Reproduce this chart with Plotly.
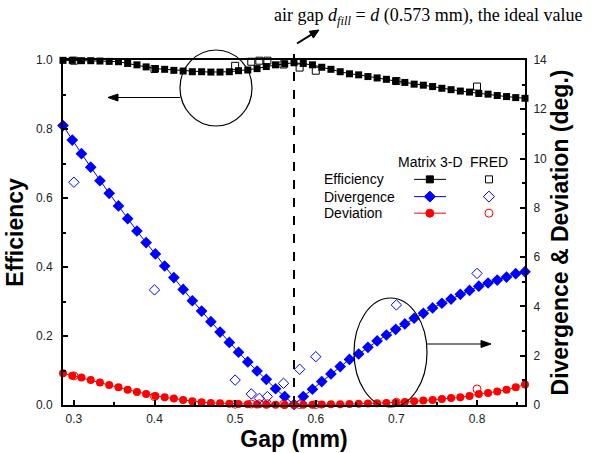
import plotly.graph_objects as go

# ---------------- data ----------------
gap_mm = [0.2865, 0.2980, 0.3094, 0.3209, 0.3323, 0.3438, 0.3553, 0.3667, 0.3782, 0.3896,
          0.4011, 0.4126, 0.4240, 0.4355, 0.4469, 0.4584, 0.4699, 0.4813, 0.4928, 0.5042,
          0.5157, 0.5272, 0.5386, 0.5501, 0.5615, 0.5730, 0.5845, 0.5959, 0.6074, 0.6188,
          0.6303, 0.6418, 0.6532, 0.6647, 0.6761, 0.6876, 0.6991, 0.7105, 0.7220, 0.7334,
          0.7449, 0.7564, 0.7678, 0.7793, 0.7907, 0.8022, 0.8137, 0.8251, 0.8366, 0.8480,
          0.8595]

eff_matrix = [0.999, 0.999, 0.998, 0.998, 0.997, 0.996,
              0.995, 0.990, 0.986, 0.980, 0.975, 0.973, 0.970, 0.968, 0.966, 0.966,
              0.965, 0.965, 0.966, 0.969, 0.971, 0.975, 0.981, 0.986, 0.989,
              0.992,
              0.990, 0.986, 0.979, 0.973, 0.966, 0.960, 0.957, 0.952, 0.948, 0.944,
              0.939, 0.935, 0.930, 0.927, 0.923, 0.918, 0.914, 0.910, 0.907, 0.903,
              0.901, 0.897, 0.894, 0.891, 0.889]

div_matrix = [11.34, 10.75, 10.20, 9.65, 9.10, 8.59, 8.08, 7.56, 7.06, 6.59,
              6.13, 5.64, 5.17, 4.69, 4.23, 3.81, 3.38, 2.96, 2.54, 2.14,
              1.75, 1.38, 1.04, 0.66, 0.34, 0.02,
              0.34, 0.64, 0.95, 1.26, 1.56, 1.85, 2.07, 2.34, 2.60, 2.84,
              3.07, 3.29, 3.52, 3.72, 3.94, 4.13, 4.30, 4.49, 4.65, 4.82,
              4.95, 5.07, 5.19, 5.33, 5.41]

dev_matrix = [1.29, 1.19, 1.12, 1.01, 0.91, 0.81, 0.72, 0.62, 0.53, 0.45,
              0.37, 0.31, 0.26, 0.20, 0.15, 0.11, 0.08, 0.07, 0.05, 0.04,
              0.03, 0.02, 0.01, 0.01, 0.00, 0.00,
              0.01, 0.01, 0.02, 0.03, 0.03, 0.04, 0.05, 0.06, 0.07, 0.08,
              0.09, 0.12, 0.15, 0.18, 0.20, 0.24, 0.28, 0.31, 0.37, 0.45,
              0.49, 0.55, 0.62, 0.72, 0.83]

gap_fred = [0.30, 0.40, 0.50, 0.52, 0.53, 0.54, 0.56, 0.58, 0.60, 0.70, 0.80]
eff_fred = [0.998, 0.974, 0.983, 0.995, 0.998, 0.998, 0.987, 0.978, 0.969, 0.939, 0.923]
div_fred = [9.04, 4.67, 1.01, 0.45, 0.27, 0.34, 0.88, 1.45, 1.96, 4.06, 5.34]
dev_fred = [1.18, 0.34, 0.03, 0.04, 0.05, 0.05, 0.03, 0.02, 0.02, 0.11, 0.65]

ideal_gap = 0.573
legend_rows = ["Efficiency", "Divergence", "Deviation"]
x_ticks = [0.3, 0.4, 0.5, 0.6, 0.7, 0.8]

# ---------------- styles ----------------
SANS = "Liberation Sans, Arial, sans-serif"
SERIF = "Liberation Serif, Times New Roman, serif"
BLACK = "#000000"
BLUE = "#0000ff"
RED = "#ff0000"

fig = go.Figure()

# Matrix 3-D results
fig.add_trace(go.Scatter(x=gap_mm, y=eff_matrix, mode="lines+markers", name="Efficiency (Matrix 3-D)",
                         line=dict(color=BLACK, width=1), marker=dict(symbol="square", size=7, color=BLACK),
                         cliponaxis=False, showlegend=False))
fig.add_trace(go.Scatter(x=gap_mm, y=div_matrix, mode="lines+markers", name="Divergence (Matrix 3-D)",
                         yaxis="y2", line=dict(color=BLUE, width=1),
                         marker=dict(symbol="diamond", size=9, color=BLUE),
                         cliponaxis=False, showlegend=False))
fig.add_trace(go.Scatter(x=gap_mm, y=dev_matrix, mode="lines+markers", name="Deviation (Matrix 3-D)",
                         yaxis="y2", line=dict(color=RED, width=1),
                         marker=dict(symbol="circle", size=8, color=RED),
                         cliponaxis=False, showlegend=False))

# FRED results (open symbols)
fig.add_trace(go.Scatter(x=gap_fred, y=eff_fred, mode="markers", name="Efficiency (FRED)",
                         marker=dict(symbol="square-open", size=7, color=BLACK, line=dict(width=1)),
                         cliponaxis=False, showlegend=False))
fig.add_trace(go.Scatter(x=gap_fred, y=div_fred, mode="markers", name="Divergence (FRED)", yaxis="y2",
                         marker=dict(symbol="diamond-open", size=8, color=BLUE, line=dict(width=1)),
                         cliponaxis=False, showlegend=False))
fig.add_trace(go.Scatter(x=gap_fred, y=dev_fred, mode="markers", name="Deviation (FRED)", yaxis="y2",
                         marker=dict(symbol="circle-open", size=8, color=RED, line=dict(width=1)),
                         cliponaxis=False, showlegend=False))

# ---------------- helpers: pixel sizes -> paper units (plot area 462 x 345 px) ----------------
PW, PH = 462.0, 345.0


def sq(cx, cy, half_px, color, filled):
    dx, dy = half_px / PW, half_px / PH
    return dict(type="rect", xref="paper", yref="paper", x0=cx - dx, x1=cx + dx, y0=cy - dy, y1=cy + dy,
                fillcolor=color if filled else "rgba(0,0,0,0)", line=dict(color=color, width=1))


def dia(cx, cy, half_px, color, filled):
    dx, dy = half_px / PW, half_px / PH
    path = (f"M {cx - dx:.5f} {cy:.5f} L {cx:.5f} {cy + dy:.5f} L {cx + dx:.5f} {cy:.5f} "
            f"L {cx:.5f} {cy - dy:.5f} Z")
    return dict(type="path", xref="paper", yref="paper", path=path,
                fillcolor=color if filled else "rgba(0,0,0,0)", line=dict(color=color, width=1))


def circ(cx, cy, half_px, color, filled):
    dx, dy = half_px / PW, half_px / PH
    return dict(type="circle", xref="paper", yref="paper", x0=cx - dx, x1=cx + dx, y0=cy - dy, y1=cy + dy,
                fillcolor=color if filled else "rgba(0,0,0,0)", line=dict(color=color, width=1))


shapes = [
    # ideal-gap marker line
    dict(type="line", xref="x", yref="paper", x0=ideal_gap, x1=ideal_gap, y0=0, y1=1.043,
         line=dict(color=BLACK, width=2, dash="dash")),
    # ellipses
    dict(type="circle", xref="paper", yref="paper", x0=0.2532, x1=0.4091, y0=0.8087, y1=1.0290,
         line=dict(color=BLACK, width=1.2)),
    dict(type="circle", xref="paper", yref="paper", x0=0.6299, x1=0.7879, y0=-0.0058, y1=0.3101,
         line=dict(color=BLACK, width=1.2)),
    # arrow from upper ellipse to the left axis
    dict(type="line", xref="paper", yref="paper", x0=0.2532, x1=0.1169, y0=0.8913, y1=0.8913,
         line=dict(color=BLACK, width=1.2)),
    dict(type="path", xref="paper", yref="paper",
         path="M 0.0974 0.8913 L 0.1190 0.9014 L 0.1190 0.8812 Z",
         fillcolor=BLACK, line=dict(color=BLACK, width=1)),
    # arrow from lower ellipse to the right axis
    dict(type="line", xref="paper", yref="paper", x0=0.7879, x1=0.9048, y0=0.1768, y1=0.1768,
         line=dict(color=BLACK, width=1.2)),
    dict(type="path", xref="paper", yref="paper",
         path="M 0.9264 0.1768 L 0.9048 0.1870 L 0.9048 0.1667 Z",
         fillcolor=BLACK, line=dict(color=BLACK, width=1)),
    # arrow pointing to the top text
    dict(type="line", xref="paper", yref="paper", x0=0.5065, x1=0.5374, y0=1.0478, y1=1.0733,
         line=dict(color=BLACK, width=2)),
    dict(type="path", xref="paper", yref="paper",
         path="M 0.5541 1.0870 L 0.5420 1.0635 L 0.5329 1.0832 Z",
         fillcolor=BLACK, line=dict(color=BLACK, width=1)),
]

# ---------------- custom two-column legend ----------------
row_y = [0.654, 0.604, 0.556]
row_col = [BLACK, BLUE, RED]
row_mk = [sq, dia, circ]
row_half = [3.5, 5.5, 4.0]
open_half = [3.5, 5.5, 4.0]
for yv, c, mk, h, oh in zip(row_y, row_col, row_mk, row_half, open_half):
    shapes.append(dict(type="line", xref="paper", yref="paper", x0=0.760, x1=0.829, y0=yv, y1=yv,
                       line=dict(color=c, width=1)))
    shapes.append(mk(0.794, yv, h, c, True))
    shapes.append(mk(0.922, yv, oh, c, False))

annotations = []
for lab, yv in zip(legend_rows, row_y):
    annotations.append(dict(text=lab, x=0.5606, y=yv, xref="paper", yref="paper", xanchor="left",
                            yanchor="middle", showarrow=False, font=dict(family=SANS, size=14, color=BLACK)))
annotations.append(dict(text="Matrix 3-D", x=0.7944, y=0.7043, xref="paper", yref="paper", xanchor="center",
                        yanchor="middle", showarrow=False, font=dict(family=SANS, size=14, color=BLACK)))
annotations.append(dict(text="FRED", x=0.9221, y=0.7043, xref="paper", yref="paper", xanchor="center",
                        yanchor="middle", showarrow=False, font=dict(family=SANS, size=14, color=BLACK)))

# top text
annotations.append(dict(text="air gap <i>d</i><sub><i>fill</i></sub> = <i>d</i> (0.573 mm), the ideal value",
                        x=0.4524, y=1.127, xref="paper", yref="paper", xanchor="left", yanchor="middle",
                        showarrow=False, font=dict(family=SERIF, size=18, color=BLACK)))

tickfont = dict(family=SANS, size=12, color="#222222")
titlefont = dict(family=SANS, size=23, color=BLACK, weight="bold")

fig.update_layout(
    width=592, height=453,
    margin=dict(l=63, r=67, t=60, b=48, autoexpand=False),
    paper_bgcolor="white", plot_bgcolor="white",
    showlegend=False,
    xaxis=dict(range=[0.2865, 0.8595], tickvals=x_ticks, ticktext=[f"{v:.1f}" for v in x_ticks],
               ticks="inside", ticklen=5, tickwidth=2, tickcolor=BLACK,
               minor=dict(dtick=0.05, tick0=0.3, ticks="inside", ticklen=3, tickwidth=1.5, tickcolor=BLACK),
               showline=True, linecolor=BLACK, linewidth=2, mirror=True, showgrid=False, zeroline=False,
               tickfont=tickfont, ticklabelstandoff=2,
               title=dict(text="Gap (mm)", font=titlefont, standoff=4)),
    yaxis=dict(range=[0, 1.0], dtick=0.2, tickformat=".1f",
               ticks="inside", ticklen=5, tickwidth=2, tickcolor=BLACK,
               minor=dict(dtick=0.1, ticks="inside", ticklen=3, tickwidth=1.5, tickcolor=BLACK),
               showline=True, linecolor=BLACK, linewidth=2, showgrid=False, zeroline=False,
               tickfont=tickfont, ticklabelstandoff=6,
               title=dict(text="Efficiency", font=titlefont, standoff=6)),
    yaxis2=dict(range=[0, 14], dtick=2, overlaying="y", side="right",
                ticks="inside", ticklen=5, tickwidth=2, tickcolor=BLACK,
                minor=dict(dtick=1, ticks="inside", ticklen=3, tickwidth=1.5, tickcolor=BLACK),
                showline=True, linecolor=BLACK, linewidth=2, showgrid=False, zeroline=False,
                tickfont=tickfont, ticklabelstandoff=4,
                title=dict(text="Divergence &amp; Deviation (deg.)", font=titlefont, standoff=6)),
    annotations=annotations,
    shapes=shapes,
)

fig.write_html("out.html")
